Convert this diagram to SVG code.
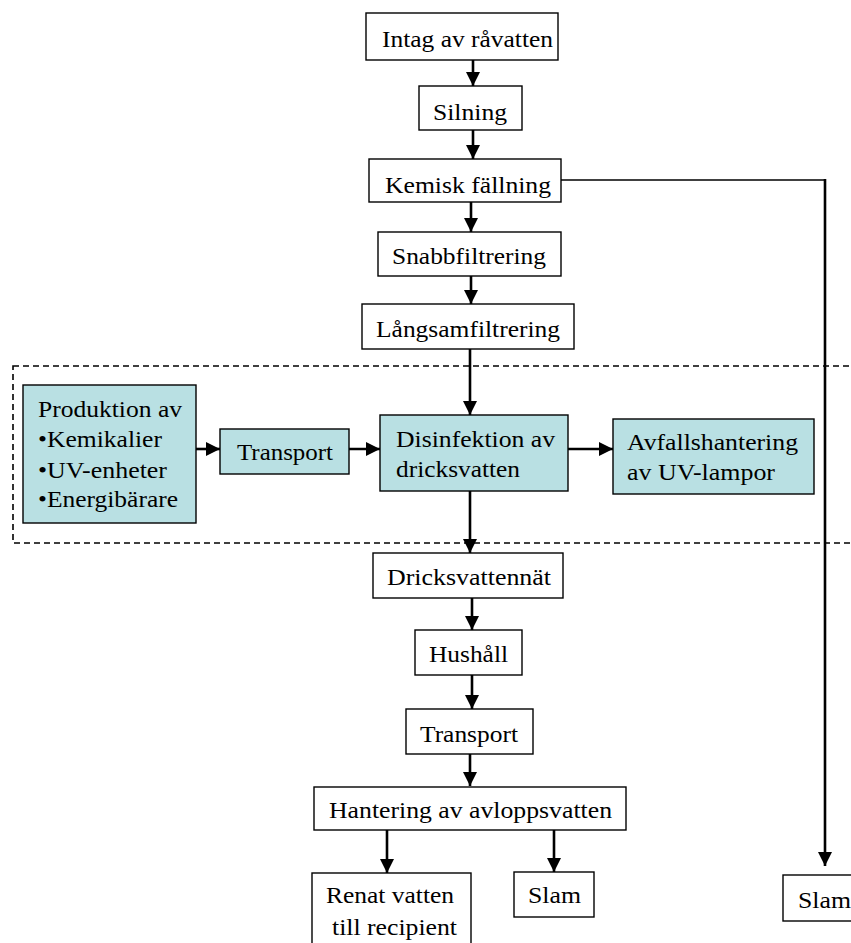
<svg xmlns="http://www.w3.org/2000/svg" width="851" height="943" viewBox="0 0 851 943">
<style>
  .box { fill: #ffffff; stroke: #000000; stroke-width: 1.4; }
  .blue { fill: #b9e0e3; stroke: #000000; stroke-width: 1.4; }
  .t { font-family: "Liberation Serif", "Times New Roman", serif; font-size: 23.5px; fill: #000000; }
  .c { fill: none; stroke: #000000; stroke-width: 2.6; }
  .thin { fill: none; stroke: #000000; stroke-width: 1.6; }
  .dash { fill: none; stroke: #000000; stroke-width: 1.6; stroke-dasharray: 6 4; }
</style>
<defs>
  <marker id="arr" markerUnits="userSpaceOnUse" markerWidth="14" markerHeight="14" viewBox="0 0 12 12" refX="12" refY="6" orient="auto">
    <path d="M0,0 L12,6 L0,12 z" fill="#000000"/>
  </marker>
</defs>
<rect width="851" height="943" fill="#ffffff"/>

<rect id="system-boundary" class="dash" x="13" y="366" width="850" height="177"/>

<g id="connectors">
  <line class="c" x1="473" y1="60" x2="473" y2="86" marker-end="url(#arr)"/>
  <line class="c" x1="473" y1="130" x2="473" y2="159" marker-end="url(#arr)"/>
  <line class="c" x1="471" y1="202" x2="471" y2="232" marker-end="url(#arr)"/>
  <line class="c" x1="471" y1="276" x2="471" y2="304" marker-end="url(#arr)"/>
  <line class="c" x1="470" y1="349" x2="470" y2="415" marker-end="url(#arr)"/>
  <line class="c" x1="470" y1="491" x2="470" y2="553" marker-end="url(#arr)"/>
  <line class="c" x1="472" y1="598" x2="472" y2="630" marker-end="url(#arr)"/>
  <line class="c" x1="472" y1="675" x2="472" y2="709" marker-end="url(#arr)"/>
  <line class="c" x1="470" y1="754" x2="470" y2="786" marker-end="url(#arr)"/>
  <line class="c" x1="387" y1="830" x2="387" y2="873" marker-end="url(#arr)"/>
  <line class="c" x1="554" y1="830" x2="554" y2="872" marker-end="url(#arr)"/>
  <line class="thin" x1="561" y1="180" x2="825" y2="180"/>
  <line class="c" x1="825" y1="179" x2="825" y2="866" marker-end="url(#arr)"/>
  <line class="c" x1="188" y1="449" x2="220" y2="449" marker-end="url(#arr)"/>
  <line class="c" x1="345" y1="449" x2="380" y2="449" marker-end="url(#arr)"/>
  <line class="c" x1="563" y1="449" x2="613" y2="449" marker-end="url(#arr)"/>
</g>

<g id="intag">
  <rect class="box" x="366" y="13" width="192" height="47"/>
  <text class="t" x="382" y="47" textLength="171" lengthAdjust="spacingAndGlyphs">Intag av råvatten</text>
</g>
<g id="silning">
  <rect class="box" x="419" y="86" width="103" height="44"/>
  <text class="t" x="433" y="120" textLength="74" lengthAdjust="spacingAndGlyphs">Silning</text>
</g>
<g id="kemisk">
  <rect class="box" x="369" y="159" width="192" height="43"/>
  <text class="t" x="385" y="193" textLength="166" lengthAdjust="spacingAndGlyphs">Kemisk fällning</text>
</g>
<g id="snabb">
  <rect class="box" x="378" y="232" width="183" height="44"/>
  <text class="t" x="392" y="264" textLength="154" lengthAdjust="spacingAndGlyphs">Snabbfiltrering</text>
</g>
<g id="langsam">
  <rect class="box" x="362" y="304" width="212" height="45"/>
  <text class="t" x="376" y="337" textLength="184" lengthAdjust="spacingAndGlyphs">Långsamfiltrering</text>
</g>
<g id="produktion">
  <rect class="blue" x="23" y="385" width="173" height="138"/>
  <text class="t" x="38" y="417" textLength="144" lengthAdjust="spacingAndGlyphs">Produktion av</text>
  <text class="t" x="38" y="447" textLength="124" lengthAdjust="spacingAndGlyphs">•Kemikalier</text>
  <text class="t" x="38" y="478" textLength="129" lengthAdjust="spacingAndGlyphs">•UV-enheter</text>
  <text class="t" x="38" y="507" textLength="140" lengthAdjust="spacingAndGlyphs">•Energibärare</text>
</g>
<g id="transport-blue">
  <rect class="blue" x="220" y="429" width="129" height="45"/>
  <text class="t" x="237" y="460" textLength="96" lengthAdjust="spacingAndGlyphs">Transport</text>
</g>
<g id="disinfektion">
  <rect class="blue" x="380" y="415" width="188" height="76"/>
  <text class="t" x="396" y="447" textLength="159" lengthAdjust="spacingAndGlyphs">Disinfektion av</text>
  <text class="t" x="396" y="477" textLength="124" lengthAdjust="spacingAndGlyphs">dricksvatten</text>
</g>
<g id="avfall">
  <rect class="blue" x="613" y="419" width="201" height="75"/>
  <text class="t" x="627" y="450" textLength="171" lengthAdjust="spacingAndGlyphs">Avfallshantering</text>
  <text class="t" x="627" y="480" textLength="148" lengthAdjust="spacingAndGlyphs">av UV-lampor</text>
</g>
<g id="dricksvattennat">
  <rect class="box" x="373" y="553" width="190" height="45"/>
  <text class="t" x="387" y="585" textLength="164" lengthAdjust="spacingAndGlyphs">Dricksvattennät</text>
</g>
<g id="hushall">
  <rect class="box" x="415" y="630" width="107" height="45"/>
  <text class="t" x="429" y="662" textLength="79" lengthAdjust="spacingAndGlyphs">Hushåll</text>
</g>
<g id="transport">
  <rect class="box" x="406" y="709" width="127" height="45"/>
  <text class="t" x="420" y="742" textLength="98" lengthAdjust="spacingAndGlyphs">Transport</text>
</g>
<g id="hantering">
  <rect class="box" x="314" y="787" width="312" height="43"/>
  <text class="t" x="329" y="818" textLength="283" lengthAdjust="spacingAndGlyphs">Hantering av avloppsvatten</text>
</g>
<g id="renat">
  <rect class="box" x="312" y="873" width="159" height="80"/>
  <text class="t" x="326" y="903" textLength="128" lengthAdjust="spacingAndGlyphs">Renat vatten</text>
  <text class="t" x="332" y="935" textLength="125" lengthAdjust="spacingAndGlyphs">till recipient</text>
</g>
<g id="slam1">
  <rect class="box" x="514" y="872" width="80" height="45"/>
  <text class="t" x="528" y="903" textLength="53" lengthAdjust="spacingAndGlyphs">Slam</text>
</g>
<g id="slam2">
  <rect class="box" x="783" y="875" width="80" height="46"/>
  <text class="t" x="798" y="908" textLength="53" lengthAdjust="spacingAndGlyphs">Slam</text>
</g>
</svg>
